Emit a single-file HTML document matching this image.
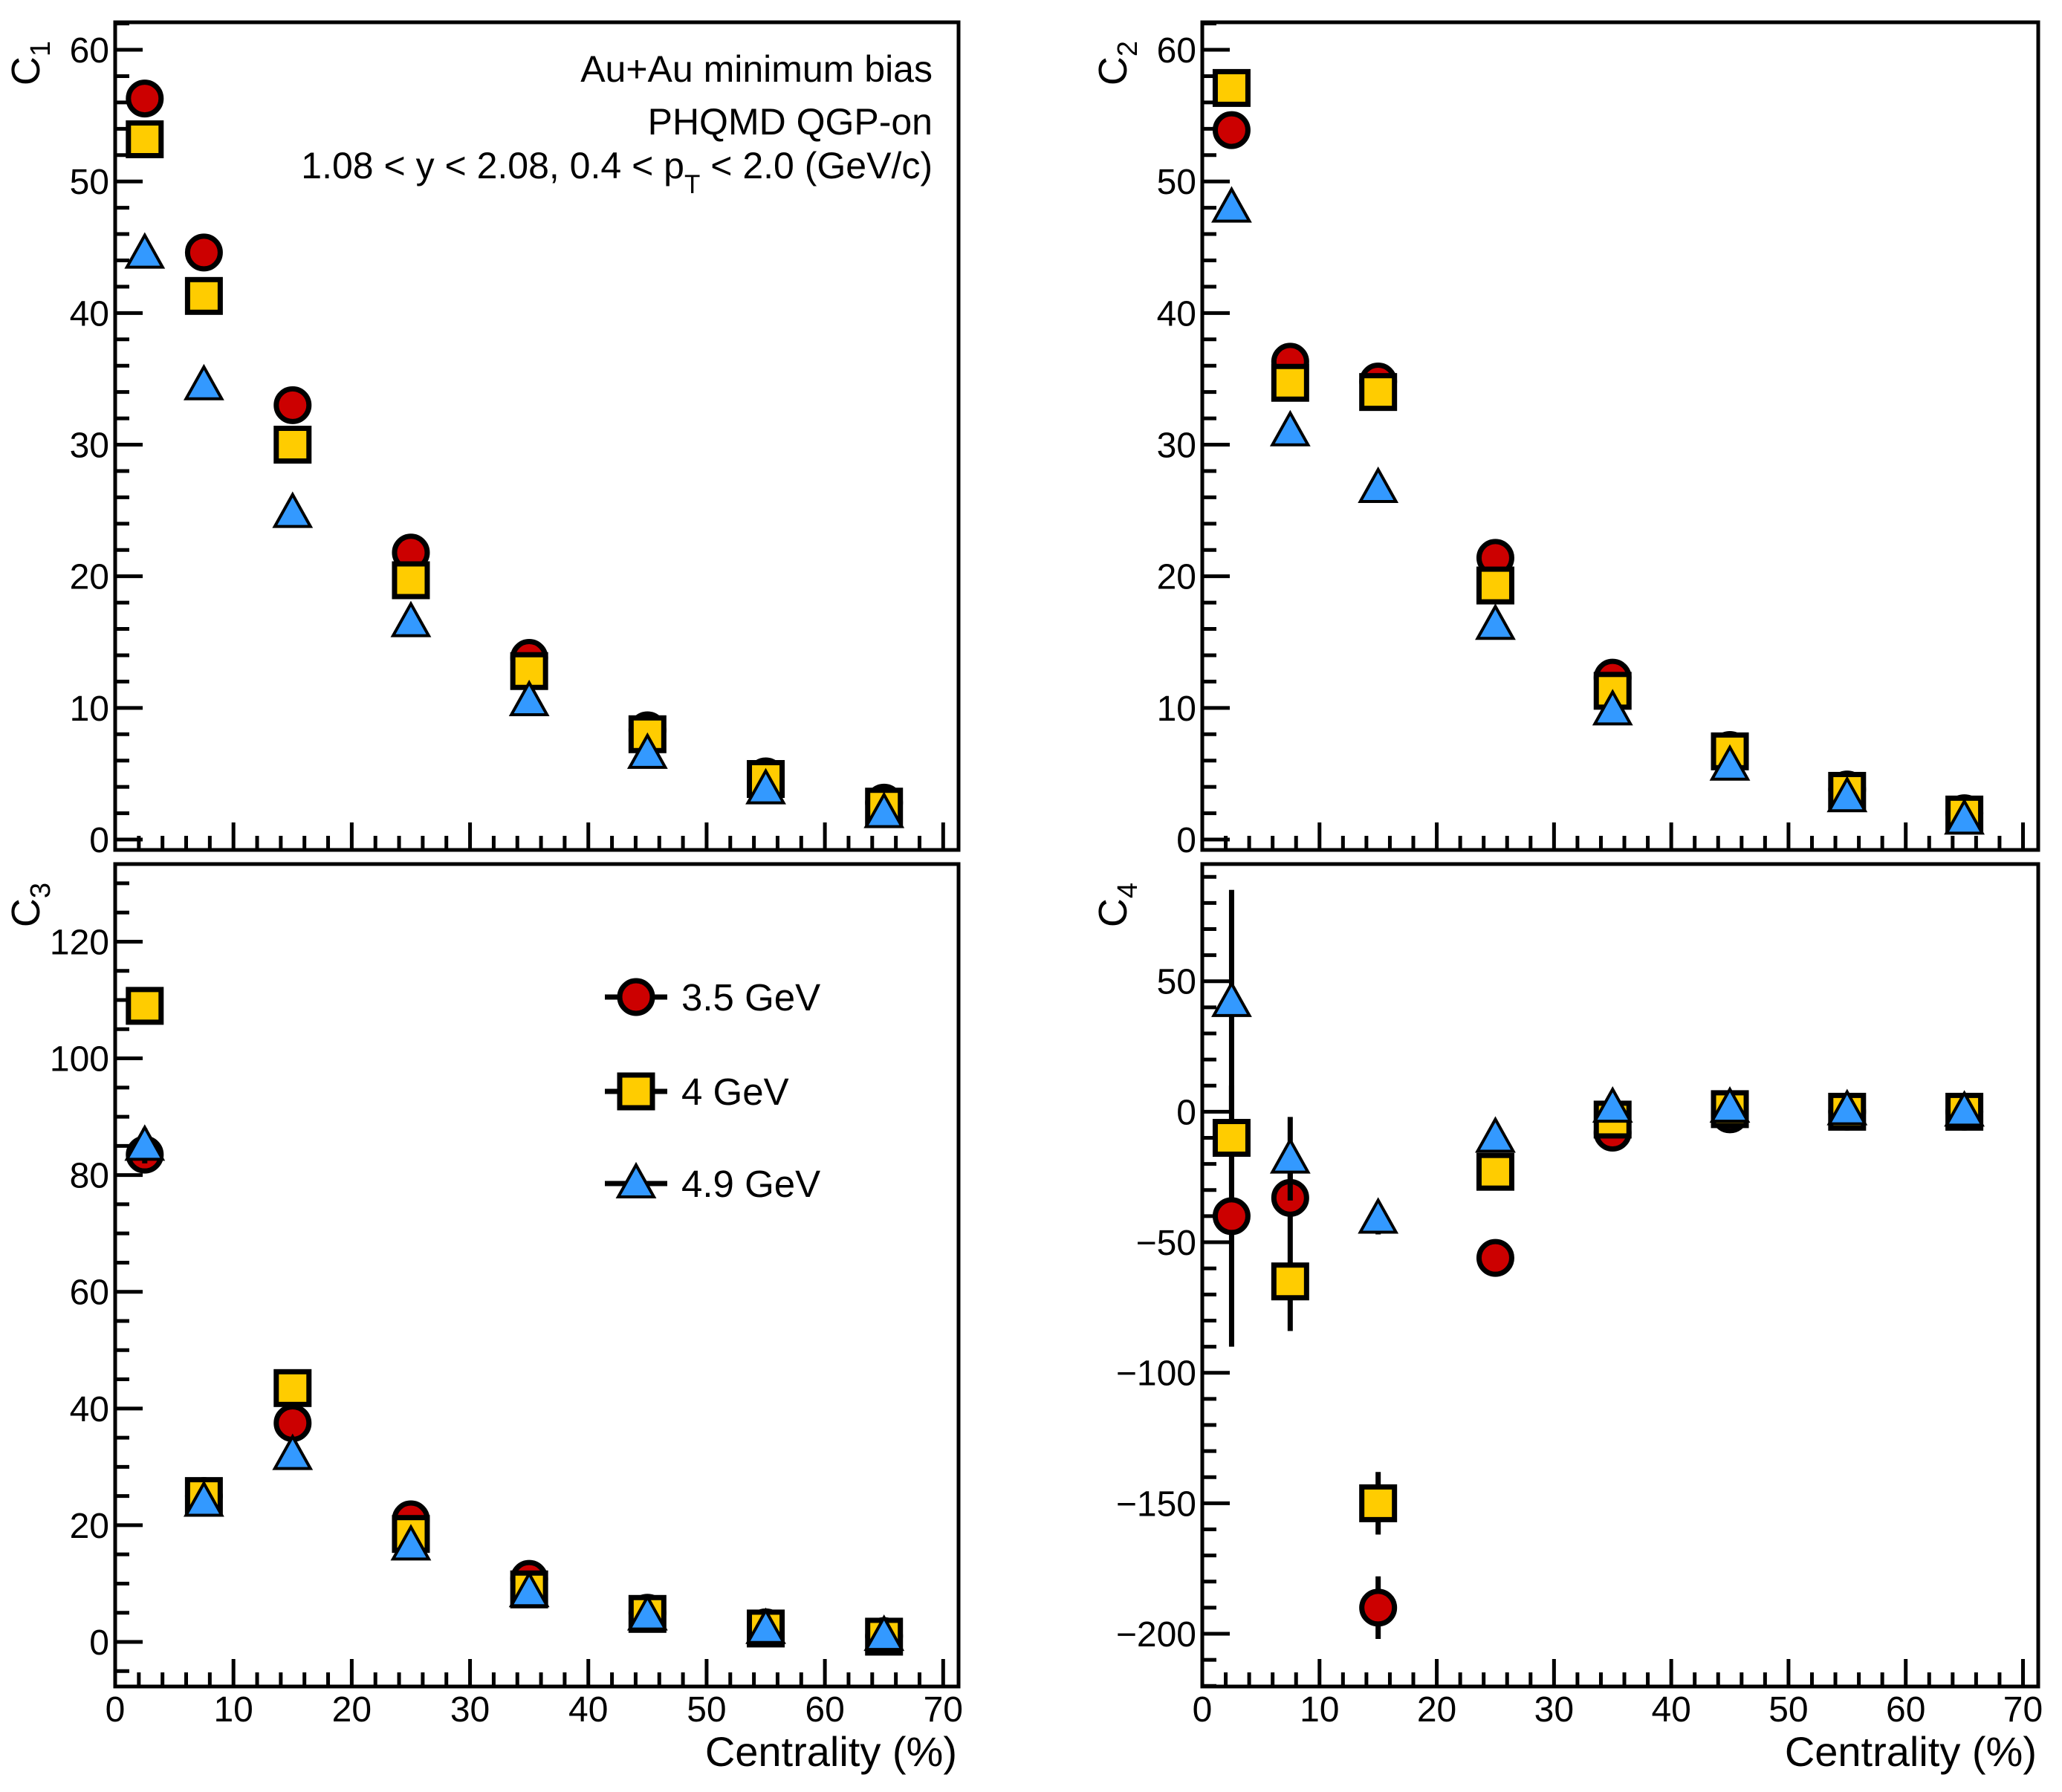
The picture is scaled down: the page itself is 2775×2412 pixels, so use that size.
<!DOCTYPE html>
<html><head><meta charset="utf-8"><style>
html,body{margin:0;padding:0;background:#fff}
svg{display:block;font-family:"Liberation Sans",sans-serif}
</style></head><body>
<svg id="chart" width="2775" height="2412" viewBox="0 0 2775 2412" xmlns="http://www.w3.org/2000/svg"></svg>
<script>
const centrality = [2.5, 7.5, 15, 25, 35, 45, 55, 65];
const energies = ["3.5 GeV", "4 GeV", "4.9 GeV"];
const c1_35 = [56.3, 44.6, 33, 21.8, 13.8, 8.3, 4.8, 2.8];
const c1_4 = [53.2, 41.3, 30, 19.7, 12.8, 8, 4.6, 2.5];
const c1_49 = [44.5, 34.5, 24.8, 16.5, 10.5, 6.5, 3.8, 2];
const c2_35 = [53.9, 36.3, 34.8, 21.4, 12.3, 6.8, 3.8, 2];
const c2_4 = [57.1, 34.7, 34, 19.3, 11.3, 6.7, 3.7, 1.9];
const c2_49 = [48, 31, 26.7, 16.3, 9.8, 5.6, 3.2, 1.5];
const c3_35 = [83.5, 25, 37.5, 21, 10.8, 5, 2.5, 1];
const c3_4 = [109, 25, 43.5, 18.5, 9, 4.8, 2.3, 0.9];
const c3_49 = [85, 24, 32, 16.5, 8.5, 4.5, 2.2, 1];
const c3_err_4 = [3, 1, 1.5, 1, 0.5, 0.3, 0.2, 0.1];
const c3_err_49 = [3, 1, 1, 0.5, 0.3, 0.2, 0.1, 0.1];
const c4_35 = [-40, -33, -190, -56, -8, -1, 0, 0];
const c4_4 = [-10, -65, -150, -23, -3, 1, 0, 0];
const c4_49 = [42, -18, -41, -10, 1.5, 1.5, 0.5, 0];
const c4_err_35 = [50, 13, 12, 3, 2, 1, 0.5, 0.2];
const c4_err_4 = [20, 19, 12, 3, 2, 1, 0.5, 0.2];
const c4_err_49 = [43, 16, 6, 2, 1, 0.5, 0.3, 0.1];
const yTicks1 = [0, 10, 20, 30, 40, 50, 60];
const yTicks3 = [0, 20, 40, 60, 80, 100, 120];
const yTicks4 = [-200, -150, -100, -50, 0, 50];
const yTickLabels4 = ["\u2212200", "\u2212150", "\u2212100", "\u221250", "0", "50"];
const xTicks = [0, 10, 20, 30, 40, 50, 60, 70];

const NS = "http://www.w3.org/2000/svg";
const svg = document.getElementById("chart");
function mk(tag, attrs, parent) {
  const e = document.createElementNS(NS, tag);
  for (const k in attrs) e.setAttribute(k, attrs[k]);
  (parent || svg).appendChild(e);
  return e;
}

const panels = [
  {id:"c1", x0:155, x1:1290, y0:30, y1:1144, ymin:-0.79, ymax:62.09, ticks:yTicks1, labels:null, minor:2, s:[c1_35,c1_4,c1_49], e:[null,null,null], title:"1", xlab:false},
  {id:"c2", x0:1618, x1:2743, y0:30, y1:1144, ymin:-0.79, ymax:62.09, ticks:yTicks1, labels:null, minor:2, s:[c2_35,c2_4,c2_49], e:[null,null,null], title:"2", xlab:false},
  {id:"c3", x0:155, x1:1290, y0:1163, y1:2270, ymin:-7.64, ymax:133.3, ticks:yTicks3, labels:null, minor:5, s:[c3_35,c3_4,c3_49], e:[null,c3_err_4,c3_err_49], title:"3", xlab:true},
  {id:"c4", x0:1618, x1:2743, y0:1163, y1:2270, ymin:-220.2, ymax:94.9, ticks:yTicks4, labels:yTickLabels4, minor:10, s:[c4_35,c4_4,c4_49], e:[c4_err_35,c4_err_4,c4_err_49], title:"4", xlab:true}
];
const XMAX = 71.3;
const fills = ["#cc0000", "#ffcc00", "#3399ff"];

function marker(kind, cx, cy, g) {
  let m;
  if (kind === 0) m = mk("circle", {cx:cx, cy:cy, r:22, fill:fills[0], stroke:"#000", "stroke-width":7}, g);
  else if (kind === 1) m = mk("rect", {x:cx-22, y:cy-22, width:44, height:44, fill:fills[1], stroke:"#000", "stroke-width":7}, g);
  else m = mk("polygon", {points:`${cx},${cy-25} ${cx+24},${cy+18} ${cx-24},${cy+18}`, fill:fills[2], stroke:"#000", "stroke-width":4, "stroke-linejoin":"miter"}, g);
  return m;
}

panels.forEach(p => {
  const g = mk("g", {});
  
  
  const X = v => p.x0 + (v / XMAX) * (p.x1 - p.x0);
  const Y = v => p.y1 - (v - p.ymin) / (p.ymax - p.ymin) * (p.y1 - p.y0);
  const fr = mk("rect", {x:p.x0, y:p.y0, width:p.x1-p.x0, height:p.y1-p.y0, fill:"none", stroke:"#000", "stroke-width":5}, g);
  
  
  for (let v = 0; v <= 70; v += 2) {
    const major = v % 10 === 0;
    mk("line", {x1:X(v), x2:X(v), y1:p.y1, y2:p.y1-(major?37:19), stroke:"#000", "stroke-width":5}, g);
  }
  if (p.xlab) {
    xTicks.forEach(v => {
      const t = mk("text", {x:X(v), y:p.y1+47, "font-size":48, "text-anchor":"middle"}, g);
      t.textContent = v;
      
      
    });
    const xt = mk("text", {x:p.x1-2, y:p.y1+107, "font-size":56, "text-anchor":"end"}, g);
    xt.textContent = "Centrality (%)";
    
    
  }
  for (let v = Math.ceil(p.ymin / p.minor) * p.minor; v <= p.ymax; v += p.minor) {
    const major = p.ticks.some(t => Math.abs(t - v) < 1e-6);
    mk("line", {x1:p.x0, x2:p.x0+(major?37:19), y1:Y(v), y2:Y(v), stroke:"#000", "stroke-width":5}, g);
  }
  p.ticks.forEach((v, i) => {
    const t = mk("text", {x:p.x0-8, y:Y(v)+17, "font-size":48, "text-anchor":"end"}, g);
    t.textContent = p.labels ? p.labels[i] : v;
    
    
  });
  const yt = mk("text", {transform:`translate(${p.x0-102},${p.y0+55}) rotate(-90)`, "font-size":54, "text-anchor":"middle"}, g);
  yt.innerHTML = `C<tspan font-size="38" dy="14">${p.title}</tspan>`;
  
  
  p.s.forEach((vals, si) => {
    const sg = mk("g", {}, g);
    
    
    const err = p.e[si];
    if (err) {
      vals.forEach((v, i) => {
        const el = mk("line", {x1:X(centrality[i]), x2:X(centrality[i]), y1:Y(v+err[i]), y2:Y(v-err[i]), stroke:"#000", "stroke-width":7}, sg);
        
        
      });
    }
    vals.forEach((v, i) => {
      const m = marker(si, X(centrality[i]), Y(v), sg);
      
      
    });
  });
});

const ann = mk("g", {});


[["Au+Au minimum bias", 110], ["PHQMD QGP-on", 181]].forEach(([s, y]) => {
  const t = mk("text", {x:1255, y:y, "font-size":50, "text-anchor":"end"}, ann);
  t.textContent = s;
});
const t3 = mk("text", {x:1255, y:240, "font-size":50, "text-anchor":"end"}, ann);
t3.innerHTML = '1.08 &lt; y &lt; 2.08, 0.4 &lt; p<tspan font-size="35" dy="20">T</tspan><tspan dy="-20"> &lt; 2.0 (GeV/c)</tspan>';

const leg = mk("g", {});


const legY = [1342, 1469, 1593];
energies.forEach((name, i) => {
  const eg = mk("g", {}, leg);
  
  
  mk("line", {x1:814, x2:898, y1:legY[i], y2:legY[i], stroke:"#000", "stroke-width":7}, eg);
  marker(i, 856, legY[i], eg);
  const t = mk("text", {x:917, y:legY[i]+18, "font-size":51}, eg);
  t.textContent = name;
});
</script>
</body></html>
